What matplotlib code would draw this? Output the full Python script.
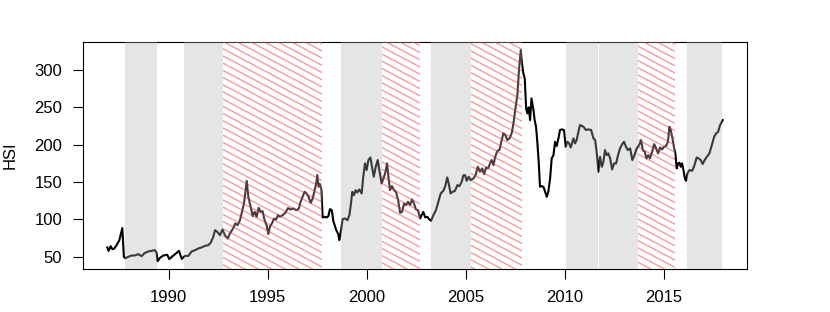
import numpy as np
import matplotlib
matplotlib.use("Agg")
import matplotlib.pyplot as plt
from matplotlib.patches import Rectangle
from matplotlib.collections import LineCollection

# monthly-ish HSI readings (decimal year, index level)
dates = [
    1986.90, 1986.97, 1987.07, 1987.16, 1987.26, 1987.37, 1987.51, 1987.66, 1987.74, 1987.82,
    1987.96, 1988.13, 1988.30, 1988.46, 1988.63, 1988.80, 1988.97, 1989.14, 1989.31, 1989.39,
    1989.44, 1989.56, 1989.73, 1989.93, 1990.03, 1990.20, 1990.40, 1990.52, 1990.66, 1990.82,
    1990.99, 1991.16, 1991.33, 1991.50, 1991.66, 1991.83, 1992.00, 1992.12, 1992.25, 1992.34,
    1992.45, 1992.59, 1992.72, 1992.84, 1992.98, 1993.09, 1993.26, 1993.36, 1993.48, 1993.60,
    1993.72, 1993.80, 1993.87, 1993.94, 1994.02, 1994.14, 1994.24, 1994.34, 1994.44, 1994.54,
    1994.64, 1994.74, 1994.84, 1994.94, 1995.03, 1995.11, 1995.21, 1995.32, 1995.42, 1995.52,
    1995.62, 1995.75, 1995.89, 1996.02, 1996.16, 1996.29, 1996.43, 1996.56, 1996.66, 1996.76,
    1996.86, 1996.96, 1997.06, 1997.17, 1997.27, 1997.37, 1997.44, 1997.50, 1997.57, 1997.64,
    1997.71, 1997.77, 1997.87, 1997.97, 1998.06, 1998.14, 1998.23, 1998.31, 1998.45, 1998.56,
    1998.61, 1998.70, 1998.78, 1998.90, 1999.02, 1999.12, 1999.20, 1999.27, 1999.35, 1999.44,
    1999.52, 1999.62, 1999.74, 1999.82, 1999.91, 1999.99, 2000.08, 2000.18, 2000.26, 2000.35,
    2000.45, 2000.55, 2000.63, 2000.75, 2000.87, 2000.95, 2001.02, 2001.09, 2001.17, 2001.27,
    2001.37, 2001.47, 2001.58, 2001.68, 2001.78, 2001.88, 2001.98, 2002.08, 2002.18, 2002.28,
    2002.38, 2002.48, 2002.58, 2002.69, 2002.79, 2002.85, 2002.95, 2003.05, 2003.16, 2003.24,
    2003.36, 2003.49, 2003.61, 2003.73, 2003.86, 2003.96, 2004.06, 2004.15, 2004.23, 2004.33,
    2004.45, 2004.57, 2004.67, 2004.79, 2004.87, 2004.96, 2005.04, 2005.14, 2005.24, 2005.38,
    2005.49, 2005.60, 2005.71, 2005.82, 2005.92, 2006.02, 2006.12, 2006.22, 2006.30, 2006.39,
    2006.48, 2006.59, 2006.69, 2006.79, 2006.89, 2006.99, 2007.09, 2007.20, 2007.31, 2007.40,
    2007.50, 2007.60, 2007.68, 2007.77, 2007.83, 2007.90, 2007.97, 2008.04, 2008.10, 2008.17,
    2008.24, 2008.31, 2008.41, 2008.47, 2008.54, 2008.61, 2008.68, 2008.74, 2008.83, 2008.91,
    2009.00, 2009.08, 2009.16, 2009.25, 2009.33, 2009.42, 2009.50, 2009.58, 2009.67, 2009.75,
    2009.85, 2009.95, 2010.04, 2010.12, 2010.21, 2010.29, 2010.43, 2010.51, 2010.59, 2010.68,
    2010.76, 2010.93, 2011.06, 2011.18, 2011.32, 2011.44, 2011.52, 2011.60, 2011.69, 2011.77,
    2011.86, 2011.94, 2012.02, 2012.11, 2012.19, 2012.28, 2012.38, 2012.48, 2012.58, 2012.68,
    2012.78, 2012.88, 2012.98, 2013.08, 2013.17, 2013.29, 2013.40, 2013.51, 2013.62, 2013.74,
    2013.84, 2013.93, 2014.03, 2014.11, 2014.21, 2014.29, 2014.40, 2014.50, 2014.60, 2014.70,
    2014.80, 2014.90, 2015.00, 2015.10, 2015.20, 2015.27, 2015.34, 2015.44, 2015.51, 2015.57,
    2015.64, 2015.71, 2015.78, 2015.84, 2015.91, 2015.98, 2016.05, 2016.11, 2016.18, 2016.28,
    2016.42, 2016.52, 2016.65, 2016.75, 2016.85, 2016.95, 2017.05, 2017.16, 2017.29, 2017.41,
    2017.53, 2017.63, 2017.73, 2017.83, 2017.96,
]
hsi = [
    62.3, 57.8, 64.0, 60.0, 61.0, 65.4, 72.0, 88.2, 49.8, 48.0,
    49.8, 51.6, 51.6, 53.4, 50.7, 55.0, 57.0, 57.8, 58.7, 55.0,
    44.0, 48.4, 51.6, 52.5, 46.7, 50.7, 55.0, 57.8, 47.0, 51.0,
    51.0, 57.0, 58.7, 61.0, 62.3, 64.5, 65.4, 68.5, 76.6, 85.5,
    83.3, 78.8, 86.4, 78.8, 74.3, 81.0, 88.2, 94.5, 92.2, 98.9,
    112.3, 121.3, 135.6, 151.6, 130.0, 116.8, 104.3, 110.0, 103.4, 115.5,
    110.0, 111.0, 98.9, 92.2, 80.2, 90.0, 94.5, 101.0, 99.8, 105.6,
    103.4, 105.6, 108.8, 115.0, 113.2, 114.6, 112.3, 114.0, 123.5, 130.2,
    136.9, 134.7, 130.2, 122.2, 128.0, 139.1, 147.2, 159.2, 143.6, 147.2,
    139.1, 102.5, 103.4, 102.5, 104.3, 113.7, 112.3, 98.0, 86.0, 80.0,
    72.1, 85.5, 100.3, 101.2, 98.9, 105.6, 121.3, 136.9, 132.4, 139.1,
    136.0, 140.0, 134.7, 157.0, 174.9, 166.0, 179.4, 182.9, 170.4, 157.0,
    170.4, 179.4, 166.0, 148.1, 157.0, 164.6, 174.9, 157.0, 139.1, 144.5,
    139.1, 136.9, 125.7, 108.8, 110.0, 121.3, 119.0, 123.5, 119.0, 126.6,
    121.3, 113.2, 112.3, 101.2, 106.5, 110.0, 102.5, 103.4, 99.8, 98.0,
    105.6, 112.3, 123.5, 134.7, 138.2, 144.5, 156.1, 145.8, 134.7, 136.9,
    138.2, 145.8, 144.5, 150.3, 158.8, 159.2, 151.6, 157.0, 152.5, 154.8,
    159.2, 170.4, 163.7, 168.2, 160.6, 169.5, 168.2, 174.9, 179.4, 172.6,
    183.8, 191.9, 192.8, 203.9, 215.1, 212.9, 206.2, 208.4, 215.1, 228.5,
    248.6, 266.5, 300.0, 326.8, 308.9, 295.5, 288.8, 248.6, 241.9, 250.0,
    233.0, 262.0, 246.4, 233.0, 224.0, 201.7, 174.9, 143.6, 144.5, 143.6,
    136.9, 130.2, 136.9, 154.8, 181.6, 186.0, 203.9, 198.1, 208.4, 219.6,
    220.5, 219.6, 197.2, 203.9, 201.7, 196.3, 208.4, 201.7, 206.2, 217.3,
    226.3, 224.0, 219.6, 220.5, 219.6, 208.4, 206.2, 190.5, 163.7, 183.8,
    170.4, 177.1, 192.8, 186.0, 188.3, 181.6, 166.8, 174.9, 174.9, 186.0,
    195.0, 200.3, 203.9, 197.2, 192.8, 195.0, 179.4, 186.0, 195.0, 199.4,
    206.2, 192.8, 190.5, 181.6, 186.0, 181.6, 190.5, 200.8, 195.0, 188.3,
    196.3, 193.6, 197.2, 198.1, 203.9, 224.0, 219.6, 206.2, 195.0, 188.3,
    168.2, 174.9, 175.8, 170.4, 174.9, 166.0, 154.8, 151.6, 161.5, 166.0,
    165.0, 171.3, 182.9, 181.6, 179.4, 174.0, 179.4, 183.8, 188.3, 199.4,
    210.6, 215.1, 217.3, 226.3, 232.9,
]

# shaded periods (gray) and hatched periods
gray_start = [1987.82, 1990.77, 1998.72, 2003.25, 2010.06, 2011.72, 2016.16]
gray_end = [1989.42, 1992.74, 2000.75, 2005.25, 2011.66, 2013.71, 2017.91]
hatch_start = [1992.74, 2000.75, 2005.25, 2013.71]
hatch_end = [1997.72, 2002.67, 2007.85, 2015.57]

plt.rcParams['font.family'] = ['Liberation Sans', 'DejaVu Sans']

fig = plt.figure(figsize=(8.3, 3.12), dpi=100)
ax = fig.add_axes([0.0996, 0.1369, 0.80, 0.7294])

ax.plot(dates, hsi, color='black', lw=1.5, zorder=2)

for s, e in zip(gray_start, gray_end):
    ax.axvspan(s, e, color=(176/255, 176/255, 176/255), alpha=0.33, lw=0, zorder=3)

# hatch lines at about -28 degrees, drawn in axes pixels and clipped to each period
W = 0.80 * 830
H = 0.7294 * 312
slope = np.tan(np.radians(28))
offs = np.arange(0, H + W * slope + 8, 7.2)
segs = [[(0, c / H), (1, (c - W * slope) / H)] for c in offs]
for s, e in zip(hatch_start, hatch_end):
    r = Rectangle((s, 0), e - s, 1, transform=ax.get_xaxis_transform(),
                  facecolor=(1, 1, 1, 0.25), edgecolor='none', zorder=3)
    ax.add_patch(r)
    lc = LineCollection(segs, colors=[(0.92, 0.15, 0.15, 0.45)], linewidths=1.0,
                        transform=ax.transAxes, zorder=4)
    ax.add_collection(lc, autolim=False)
    lc.set_clip_path(r)

ax.set_xlim(1985.66, 2019.17)
ax.set_ylim(33.1, 337.9)
ax.set_xticks([1990, 1995, 2000, 2005, 2010, 2015])
ax.set_yticks([50, 100, 150, 200, 250, 300])
ax.tick_params(direction='out', length=7.2, width=0.8, labelsize=12, pad=7.5)
ax.set_ylabel('HSI', fontsize=12, labelpad=12)
for sp in ax.spines.values():
    sp.set_linewidth(0.8)

fig.savefig('out.png', dpi=100)
